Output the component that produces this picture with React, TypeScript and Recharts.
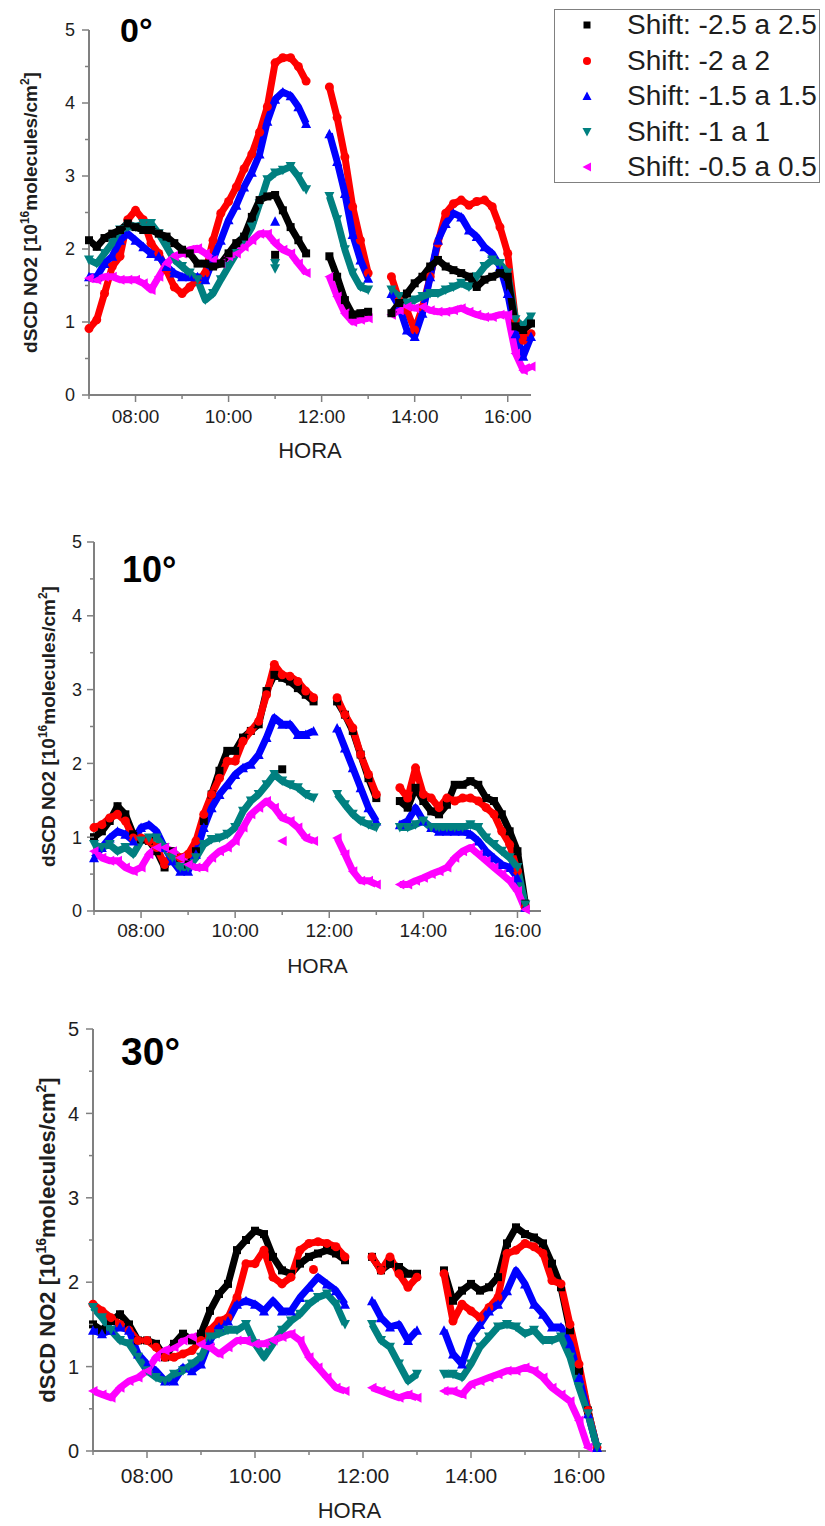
import { ComposedChart, Line, Scatter, XAxis, YAxis, Legend } from 'recharts'

const FONT = '"Liberation Sans", Arial, Helvetica, sans-serif'
const AXIS_GRAY = '#808080'
const TEXT_DARK = '#1e1e1e'

// sample times shared by every panel (10 min steps)
const TIMES = [
  '07:00', '07:10', '07:20', '07:30', '07:40', '07:50',
  '08:00', '08:10', '08:20', '08:30', '08:40', '08:50',
  '09:00', '09:10', '09:20', '09:30', '09:40', '09:50',
  '10:00', '10:10', '10:20', '10:30', '10:40', '10:50',
  '11:00', '11:10', '11:20', '11:30', '11:40', '11:50',
  '12:00', '12:10', '12:20', '12:30', '12:40', '12:50',
  '13:00', '13:10', '13:20', '13:30', '13:40', '13:50',
  '14:00', '14:10', '14:20', '14:30', '14:40', '14:50',
  '15:00', '15:10', '15:20', '15:30', '15:40', '15:50',
  '16:00', '16:10', '16:20', '16:30',
]
const HOUR_TICKS = [7, 8, 9, 10, 11, 12, 13, 14, 15, 16]
const VALUE_TICKS = [0, 0.5, 1, 1.5, 2, 2.5, 3, 3.5, 4, 4.5, 5]

type Val = number | null

// 0° elevation
const P1_S25: Val[] = [
  2.12, 2.03, 2.15, 2.21, 2.26, 2.35, 2.3, 2.26, 2.26, 2.21, 2.17, 2.08,
  1.99, 1.94, 1.8, 1.8, 1.76, 1.8, 1.94, 2.08, 2.17, 2.44, 2.67, 2.72,
  2.74, 2.53, 2.3, 2.12, 1.94, null, null, 1.9, 1.62, 1.3, 1.1, 1.12,
  1.14, null, null, 1.12, 1.26, 1.39, 1.53, 1.62, 1.76, 1.85, 1.76, 1.71,
  1.67, 1.62, 1.48, 1.58, 1.62, 1.67, 1.62, 0.94, 0.89, 0.98,
]
const P1_S20: Val[] = [
  0.91, 1.03, 1.39, 1.76, 1.9, 2.4, 2.53, 2.4, 2.08, 1.94, 1.71, 1.48,
  1.39, 1.48, 1.58, 1.67, 2.12, 2.49, 2.65, 2.85, 3.1, 3.3, 3.6, 3.95,
  4.55, 4.62, 4.62, 4.5, 4.3, null, null, 4.22, 3.8, 3.26, 2.58, 2.12,
  1.67, null, null, 1.62, 1.3, 1.16, 0.89, 1.2, 1.62, 2.08, 2.49, 2.62,
  2.67, 2.6, 2.65, 2.67, 2.58, 2.3, 1.94, 1.03, 0.75, 0.84,
]
const P1_S15: Val[] = [
  1.62, 1.62, 1.8, 1.9, 2.12, 2.21, 2.12, 2.03, 1.94, 1.9, 1.76, 1.67,
  1.62, 1.62, 1.62, 1.58, 1.85, 2.12, 2.4, 2.6, 2.85, 3.05, 3.3, 3.75,
  4.05, 4.15, 4.1, 3.95, 3.72, null, null, 3.58, 3.2, 2.76, 2.2, 1.85,
  1.6, null, null, 1.39, 1.21, 0.89, 0.8, 1.12, 1.62, 2.12, 2.35, 2.49,
  2.44, 2.26, 2.17, 2.03, 1.94, 1.76, 1.39, 0.84, 0.53, 0.8,
]
const P1_S10: Val[] = [
  1.85, 1.8, 1.94, 2.08, 2.26, 2.3, 2.3, 2.35, 2.35, 2.21, 2.03, 1.85,
  1.76, 1.67, 1.58, 1.3, 1.39, 1.58, 1.76, 1.94, 2.12, 2.3, 2.62, 2.95,
  3.04, 3.08, 3.13, 2.99, 2.81, null, null, 2.72, 2.4, 1.99, 1.67, 1.48,
  1.44, null, null, 1.44, 1.35, 1.26, 1.3, 1.35, 1.39, 1.39, 1.44, 1.48,
  1.53, 1.48, 1.62, 1.76, 1.85, 1.8, 1.67, 1.03, 0.94, 1.07,
]
const P1_S05: Val[] = [
  1.6, 1.58, 1.62, 1.62, 1.58, 1.58, 1.58, 1.53, 1.44, 1.62, 1.8, 1.9,
  1.94, 1.99, 2.01, 1.94, 1.85, 1.8, 1.9, 1.94, 2.03, 2.12, 2.21, 2.21,
  2.08, 1.99, 1.94, 1.8, 1.67, null, null, 1.62, 1.35, 1.12, 1.0, 1.03,
  1.05, null, null, 1.1, 1.16, 1.21, 1.19, 1.21, 1.16, 1.14, 1.14, 1.16,
  1.19, 1.14, 1.1, 1.07, 1.07, 1.1, 1.1, 0.57, 0.34, 0.39,
]

// 10° elevation
const P2_S25: Val[] = [
  1.0, 1.08, 1.22, 1.42, 1.31, 1.04, 0.97, 0.95, 0.81, 0.59, 0.81, 0.72,
  0.63, 0.81, 1.22, 1.58, 1.9, 2.17, 2.17, 2.35, 2.44, 2.53, 2.98, 3.2,
  3.16, 3.11, 3.02, 2.93, 2.84, null, null, 2.84, 2.66, 2.44, 2.12, 1.8,
  1.53, null, null, 1.49, 1.4, 1.67, 1.49, 1.35, 1.31, 1.44, 1.71, 1.71,
  1.76, 1.71, 1.53, 1.49, 1.31, 1.08, 0.81, 0.1, null, null,
]
const P2_S20: Val[] = [
  1.13, 1.17, 1.26, 1.31, 1.22, 0.99, 0.99, 0.95, 0.86, 0.63, 0.77, 0.72,
  0.77, 0.95, 1.31, 1.58, 1.8, 2.03, 2.03, 2.3, 2.44, 2.57, 2.93, 3.34,
  3.2, 3.18, 3.11, 2.98, 2.89, null, null, 2.89, 2.66, 2.48, 2.12, 1.85,
  1.58, null, null, 1.67, 1.53, 1.94, 1.58, 1.53, 1.4, 1.53, 1.49, 1.53,
  1.53, 1.49, 1.4, 1.31, 1.08, 0.9, 0.54, 0.05, null, null,
]
const P2_S15: Val[] = [
  0.72, 0.86, 0.99, 1.08, 1.04, 0.95, 1.13, 1.17, 1.08, 0.86, 0.68, 0.54,
  0.54, 0.77, 1.13, 1.4, 1.58, 1.71, 1.85, 1.94, 1.99, 2.12, 2.35, 2.62,
  2.53, 2.53, 2.39, 2.39, 2.44, null, null, 2.48, 2.21, 1.94, 1.67, 1.4,
  1.22, null, null, 1.17, 1.22, 1.4, 1.22, 1.13, 1.08, 1.08, 1.08, 1.08,
  1.04, 0.95, 0.81, 0.72, 0.63, 0.59, 0.45, 0.05, null, null,
]
const P2_S10: Val[] = [
  0.9, 0.86, 0.9, 0.81, 0.86, 0.77, 0.95, 0.99, 0.99, 0.86, 0.72, 0.59,
  0.59, 0.72, 0.9, 0.97, 0.99, 1.04, 1.13, 1.35, 1.49, 1.58, 1.71, 1.85,
  1.76, 1.71, 1.67, 1.58, 1.53, null, null, 1.58, 1.44, 1.31, 1.22, 1.17,
  1.13, null, null, 1.13, 1.13, 1.17, 1.22, 1.13, 1.13, 1.13, 1.13, 1.13,
  1.17, 1.13, 0.99, 0.9, 0.81, 0.72, 0.59, 0.08, null, null,
]
const P2_S05: Val[] = [
  0.81, 0.72, 0.68, 0.68, 0.59, 0.54, 0.59, 0.77, 0.86, 0.86, 0.81, 0.72,
  0.63, 0.59, 0.59, 0.72, 0.81, 0.86, 0.95, 1.13, 1.31, 1.4, 1.49, 1.4,
  1.26, 1.22, 1.13, 0.99, 0.95, null, null, 0.99, 0.77, 0.54, 0.41, 0.41,
  0.36, null, null, 0.36, 0.36, 0.41, 0.45, 0.5, 0.54, 0.59, 0.72, 0.81,
  0.86, 0.77, 0.68, 0.59, 0.5, 0.41, 0.27, 0.02, null, null,
]

// 30° elevation
const P3_S25: Val[] = [
  1.5, 1.43, 1.54, 1.62, 1.5, 1.31, 1.31, 1.27, 1.11, 1.27, 1.39, 1.31,
  1.39, 1.66, 1.86, 1.98, 2.38, 2.5, 2.61, 2.57, 2.3, 2.14, 2.1, 2.22,
  2.3, 2.34, 2.38, 2.34, 2.26, null, null, 2.3, 2.14, 2.22, 2.18, 2.1,
  2.1, null, null, 2.14, 1.78, 1.9, 1.98, 1.9, 1.94, 2.06, 2.46, 2.65,
  2.57, 2.53, 2.46, 2.22, 1.94, 1.43, 0.95, 0.48, 0.04, null,
]
const P3_S20: Val[] = [
  1.74, 1.66, 1.58, 1.5, 1.43, 1.31, 1.31, 1.23, 1.11, 1.11, 1.15, 1.19,
  1.31, 1.43, 1.54, 1.58, 1.82, 2.22, 2.22, 2.38, 2.06, 1.98, 2.06, 2.38,
  2.46, 2.48, 2.46, 2.42, 2.3, null, null, 2.3, 2.14, 2.3, 2.1, 1.94,
  2.06, null, null, 2.1, 1.54, 1.74, 1.66, 1.58, 1.7, 1.82, 2.34, 2.38,
  2.46, 2.42, 2.34, 2.02, 1.98, 1.5, 1.03, 0.48, 0.04, null,
]
const P3_S15: Val[] = [
  1.43, 1.39, 1.43, 1.47, 1.43, 1.15, 1.03, 0.95, 0.83, 0.83, 0.99, 0.95,
  1.03, 1.31, 1.47, 1.54, 1.74, 1.78, 1.74, 1.66, 1.78, 1.66, 1.66, 1.82,
  1.94, 2.06, 1.98, 1.9, 1.74, null, null, 1.78, 1.58, 1.47, 1.5, 1.31,
  1.43, null, null, 1.43, 1.15, 1.03, 1.35, 1.5, 1.66, 1.74, 1.9, 2.14,
  1.98, 1.74, 1.62, 1.47, 1.47, 1.27, 0.87, 0.44, 0.04, null,
]
const P3_S10: Val[] = [
  1.7, 1.58, 1.43, 1.31, 1.27, 1.11, 0.95, 0.87, 0.83, 0.91, 0.95, 1.03,
  1.11, 1.35, 1.39, 1.43, 1.43, 1.5, 1.27, 1.11, 1.27, 1.43, 1.54, 1.62,
  1.74, 1.82, 1.86, 1.74, 1.5, null, null, 1.5, 1.31, 1.23, 1.03, 0.83,
  0.91, null, null, 0.91, 0.91, 0.87, 1.03, 1.23, 1.35, 1.47, 1.5, 1.47,
  1.39, 1.43, 1.31, 1.31, 1.35, 1.11, 0.75, 0.44, 0.04, null,
]
const P3_S05: Val[] = [
  0.71, 0.67, 0.63, 0.75, 0.83, 0.87, 0.95, 1.11, 1.19, 1.23, 1.31, 1.35,
  1.27, 1.23, 1.15, 1.23, 1.31, 1.31, 1.27, 1.27, 1.31, 1.35, 1.39, 1.31,
  1.11, 0.99, 0.87, 0.75, 0.71, null, null, 0.75, 0.71, 0.67, 0.63, 0.67,
  0.63, null, null, 0.71, 0.71, 0.67, 0.79, 0.83, 0.87, 0.91, 0.95, 0.95,
  0.99, 0.95, 0.87, 0.75, 0.67, 0.59, 0.36, 0.04, null, null,
]

// stray samples that sit away from their series
const P1_STRAYS = [
  { time: '11:00', key: 's25', value: 1.92 },
  { time: '11:00', key: 's15', value: 2.38 },
  { time: '11:00', key: 's10', value: 1.73 },
  { time: '11:00', key: 's10', value: 1.8 },
]
const P2_STRAYS = [
  { time: '11:00', key: 's25', value: 1.92 },
  { time: '11:00', key: 's05', value: 0.95 },
]
const P3_STRAYS = [{ time: '11:05', key: 's20', value: 2.15 }]

type Key = 's25' | 's20' | 's15' | 's10' | 's05'
type MarkerKind = 'square' | 'circle' | 'up' | 'down' | 'left'

const SERIES: { key: Key; name: string; color: string; marker: MarkerKind }[] = [
  { key: 's25', name: 'Shift: -2.5 a 2.5', color: '#000000', marker: 'square' },
  { key: 's20', name: 'Shift: -2 a 2', color: '#ff0000', marker: 'circle' },
  { key: 's15', name: 'Shift: -1.5 a 1.5', color: '#0000ff', marker: 'up' },
  { key: 's10', name: 'Shift: -1 a 1', color: '#008080', marker: 'down' },
  { key: 's05', name: 'Shift: -0.5 a 0.5', color: '#ff00ff', marker: 'left' },
]

interface PanelCfg {
  title: string
  top: number
  width: number
  height: number
  plotTop: number
  plotBottom: number
  plotLeft: number
  plotRight: number
  titleX: number
  titleY: number
  titleSize: number
  yTitleX: number
  yTitleSize: number
  xTickFont: number
  yTickFont: number
  xTickDy: number
  yTickGap: number
  horaY: number
  horaSize: number
}

const PANEL_0: PanelCfg = {
  title: '0°', top: 0, width: 825, height: 480,
  plotTop: 30, plotBottom: 395, plotLeft: 89, plotRight: 531,
  titleX: 120, titleY: 42, titleSize: 34, yTitleX: 30, yTitleSize: 19,
  xTickFont: 19, yTickFont: 18, xTickDy: 28, yTickGap: 14, horaY: 458, horaSize: 22,
}
const PANEL_10: PanelCfg = {
  title: '10°', top: 490, width: 560, height: 510,
  plotTop: 52, plotBottom: 421, plotLeft: 94, plotRight: 541,
  titleX: 122, titleY: 92, titleSize: 36, yTitleX: 48, yTitleSize: 19,
  xTickFont: 19, yTickFont: 18, xTickDy: 26, yTickGap: 12, horaY: 483, horaSize: 21,
}
const PANEL_30: PanelCfg = {
  title: '30°', top: 1000, width: 640, height: 526,
  plotTop: 29, plotBottom: 451, plotLeft: 93, plotRight: 606,
  titleX: 121, titleY: 65, titleSize: 39, yTitleX: 47, yTitleSize: 22,
  xTickFont: 21, yTickFont: 20, xTickDy: 32, yTickGap: 14, horaY: 518, horaSize: 22,
}

const LINE_WIDTH = 7
const MARK_SIZE = 9

function toHour(t: string) {
  const [h, m] = t.split(':').map(Number)
  return h + m / 60
}

function hourLabel(h: number) {
  return `${String(h).padStart(2, '0')}:00`
}

function Marker({ kind, cx, cy, color, size = MARK_SIZE }: { kind: MarkerKind; cx: number; cy: number; color: string; size?: number }) {
  const r = size / 2
  switch (kind) {
    case 'square':
      return <rect x={cx - r + 0.5} y={cy - r + 0.5} width={size - 1} height={size - 1} fill={color} />
    case 'circle':
      return <circle cx={cx} cy={cy} r={r} fill={color} />
    case 'up':
      return <polygon points={`${cx},${cy - r - 0.5} ${cx + r + 0.5},${cy + r} ${cx - r - 0.5},${cy + r}`} fill={color} />
    case 'down':
      return <polygon points={`${cx},${cy + r + 0.5} ${cx + r + 0.5},${cy - r} ${cx - r - 0.5},${cy - r}`} fill={color} />
    default:
      return <polygon points={`${cx - r - 0.5},${cy} ${cx + r},${cy - r - 0.5} ${cx + r},${cy + r + 0.5}`} fill={color} />
  }
}

function LegendBox() {
  return (
    <div
      style={{
        position: 'relative',
        width: 266,
        height: 174,
        border: `1px solid ${AXIS_GRAY}`,
        boxSizing: 'border-box',
        background: '#fff',
        fontFamily: FONT,
        fontSize: 28,
        color: TEXT_DARK,
      }}
    >
      {SERIES.map((s, i) => (
        <div key={s.key} style={{ position: 'absolute', left: 0, top: i * 35.5 - 2, height: 34, lineHeight: '34px', whiteSpace: 'nowrap' }}>
          <svg width={14} height={14} style={{ position: 'absolute', left: 25, top: 10 }}>
            <Marker kind={s.marker} cx={7} cy={7} color={s.color} size={8} />
          </svg>
          <span style={{ position: 'absolute', left: 72 }}>{s.name}</span>
        </div>
      ))}
    </div>
  )
}

// eslint-disable-next-line @typescript-eslint/no-explicit-any
function XTick({ x, y, payload, cfg }: any) {
  const major = payload.value % 2 === 0
  return (
    <g>
      <line x1={x} x2={x} y1={y} y2={y + (major ? 7 : 4)} stroke={AXIS_GRAY} strokeWidth={1.5} />
      {major && (
        <text x={x} y={y + cfg.xTickDy} textAnchor="middle" fontFamily={FONT} fontSize={cfg.xTickFont} fill={TEXT_DARK}>
          {hourLabel(payload.value)}
        </text>
      )}
    </g>
  )
}

// eslint-disable-next-line @typescript-eslint/no-explicit-any
function YTick({ x, y, payload, cfg }: any) {
  const major = Number.isInteger(payload.value)
  return (
    <g>
      <line x1={x - (major ? 7 : 4)} x2={x} y1={y} y2={y} stroke={AXIS_GRAY} strokeWidth={1.5} />
      {major && (
        <text x={x - cfg.yTickGap} y={y} dy="0.36em" textAnchor="end" fontFamily={FONT} fontSize={cfg.yTickFont} fill={TEXT_DARK}>
          {payload.value}
        </text>
      )}
    </g>
  )
}

function YTitle({ cfg }: { cfg: PanelCfg }) {
  const fs = cfg.yTitleSize
  const cy = (cfg.plotTop + cfg.plotBottom) / 2
  const bx = cfg.yTitleX + fs * 0.36
  const sup = Math.round(fs * 0.62)
  const lift = Math.round(fs * 0.42)
  return (
    <g>
      <text x={cfg.titleX} y={cfg.titleY} fontFamily={FONT} fontWeight="bold" fontSize={cfg.titleSize} fill="#000">
        {cfg.title}
      </text>
      <text transform={`translate(${bx},${cy}) rotate(-90)`} textAnchor="middle" fontFamily={FONT} fontWeight="bold" fontSize={fs} fill={TEXT_DARK}>
        dSCD NO2 [10
        <tspan fontSize={sup} dy={-lift}>16</tspan>
        <tspan dy={lift}>molecules/cm</tspan>
        <tspan fontSize={sup} dy={-lift}>2</tspan>
        <tspan dy={lift}>]</tspan>
      </text>
    </g>
  )
}

interface PanelProps {
  cfg: PanelCfg
  values: Record<Key, Val[]>
  strays: { time: string; key: string; value: number }[]
  order: Key[]
  withLegend?: boolean
}

function Panel({ cfg, values, strays, order, withLegend }: PanelProps) {
  const rows = TIMES.map((t, i) => {
    const row: Record<string, number | null> = { hour: toHour(t) }
    SERIES.forEach((s) => {
      row[s.key] = values[s.key][i]
    })
    return row
  })
  const series = order.map((k) => SERIES.find((s) => s.key === k)!)

  return (
    <div style={{ position: 'absolute', left: 0, top: cfg.top }}>
      <ComposedChart
        width={cfg.width}
        height={cfg.height}
        data={rows}
        margin={{ top: cfg.plotTop, right: cfg.width - cfg.plotRight, bottom: 0, left: 0 }}
      >
        <XAxis
          type="number"
          dataKey="hour"
          domain={[7, 16.5]}
          ticks={HOUR_TICKS}
          interval={0}
          height={cfg.height - cfg.plotBottom}
          tickSize={0}
          tickMargin={0}
          tickLine={false}
          axisLine={{ stroke: AXIS_GRAY, strokeWidth: 2 }}
          tick={(p) => <XTick {...p} cfg={cfg} />}
          label={{
            content: () => (
              <text
                x={(cfg.plotLeft + cfg.plotRight) / 2}
                y={cfg.horaY}
                textAnchor="middle"
                fontFamily={FONT}
                fontSize={cfg.horaSize}
                fill={TEXT_DARK}
              >
                HORA
              </text>
            ),
          }}
        />
        <YAxis
          type="number"
          domain={[0, 5]}
          ticks={VALUE_TICKS}
          interval={0}
          width={cfg.plotLeft}
          tickSize={0}
          tickMargin={0}
          tickLine={false}
          axisLine={{ stroke: AXIS_GRAY, strokeWidth: 2 }}
          tick={(p) => <YTick {...p} cfg={cfg} />}
          label={{ content: () => <YTitle cfg={cfg} /> }}
        />
        {series.map((s) => (
          <Line
            key={s.key}
            type="linear"
            dataKey={s.key}
            name={s.name}
            stroke={s.color}
            strokeWidth={LINE_WIDTH}
            strokeLinejoin="round"
            // eslint-disable-next-line @typescript-eslint/no-explicit-any
            dot={(p: any) =>
              p.cx == null || p.cy == null || p.value == null ? (
                <g key={`${s.key}-${p.index}`} />
              ) : (
                <g key={`${s.key}-${p.index}`}>
                  <Marker kind={s.marker} cx={p.cx} cy={p.cy} color={s.color} />
                </g>
              )
            }
            activeDot={false}
            isAnimationActive={false}
          />
        ))}
        {series.map((s) => {
          const pts = strays.filter((d) => d.key === s.key).map((d) => ({ hour: toHour(d.time), value: d.value }))
          if (!pts.length) return null
          return (
            <Scatter
              key={`stray-${s.key}`}
              data={pts}
              dataKey="value"
              fill={s.color}
              legendType="none"
              // eslint-disable-next-line @typescript-eslint/no-explicit-any
              shape={(p: any) => <Marker kind={s.marker} cx={p.cx} cy={p.cy} color={s.color} />}
              isAnimationActive={false}
            />
          )
        })}
        {withLegend && (
          <Legend
            layout="vertical"
            align="center"
            verticalAlign="middle"
            content={() => <LegendBox />}
            wrapperStyle={{ left: 554, top: 9, width: 266, height: 174 }}
          />
        )}
      </ComposedChart>
    </div>
  )
}

export default function App() {
  return (
    <div style={{ position: 'absolute', left: 0, top: 0, width: 825, height: 1526, background: '#fff' }}>
      <Panel
        cfg={PANEL_0}
        values={{ s25: P1_S25, s20: P1_S20, s15: P1_S15, s10: P1_S10, s05: P1_S05 }}
        strays={P1_STRAYS}
        order={['s20', 's15', 's10', 's05', 's25']}
        withLegend
      />
      <Panel
        cfg={PANEL_10}
        values={{ s25: P2_S25, s20: P2_S20, s15: P2_S15, s10: P2_S10, s05: P2_S05 }}
        strays={P2_STRAYS}
        order={['s25', 's20', 's15', 's10', 's05']}
      />
      <Panel
        cfg={PANEL_30}
        values={{ s25: P3_S25, s20: P3_S20, s15: P3_S15, s10: P3_S10, s05: P3_S05 }}
        strays={P3_STRAYS}
        order={['s25', 's20', 's15', 's10', 's05']}
      />
    </div>
  )
}
